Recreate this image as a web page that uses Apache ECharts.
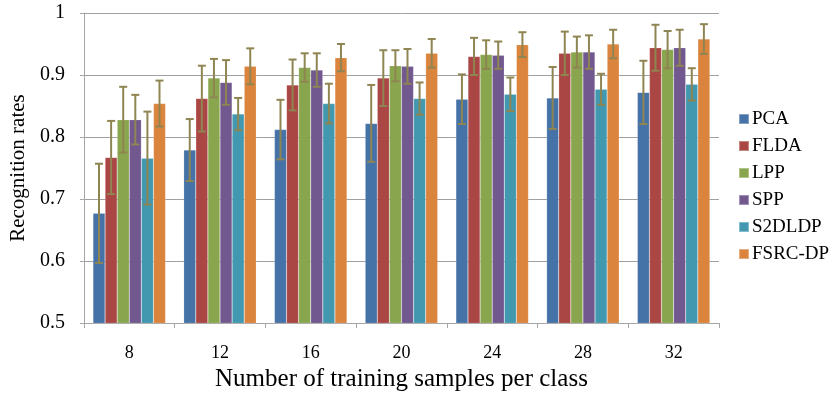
<!DOCTYPE html>
<html>
<head>
<meta charset="utf-8">
<script src="https://cdn.jsdelivr.net/npm/echarts@6/dist/echarts.min.js"></script>
<style>html,body{margin:0;padding:0;background:#fff}#c{width:831px;height:397px}</style>
</head>
<body>
<div id="c"></div>
<script>
const categories = ['8', '12', '16', '20', '24', '28', '32'];
const seriesNames = ['PCA', 'FLDA', 'LPP', 'SPP', 'S2DLDP', 'FSRC-DP'];
const yTicks = [0.5, 0.6, 0.7, 0.8, 0.9, 1];

const pcaValues    = [0.677, 0.779, 0.812, 0.822, 0.861, 0.863, 0.872];
const fldaValues   = [0.767, 0.862, 0.884, 0.895, 0.930, 0.935, 0.944];
const lppValues    = [0.828, 0.895, 0.912, 0.915, 0.933, 0.937, 0.941];
const sppValues    = [0.828, 0.888, 0.908, 0.914, 0.932, 0.937, 0.944];
const s2dldpValues = [0.766, 0.837, 0.854, 0.862, 0.869, 0.877, 0.885];
const fsrcValues   = [0.854, 0.914, 0.928, 0.935, 0.949, 0.950, 0.958];

const pcaErr    = [0.080, 0.050, 0.048, 0.062, 0.040, 0.050, 0.051];
const fldaErr   = [0.059, 0.053, 0.041, 0.045, 0.030, 0.035, 0.037];
const lppErr    = [0.053, 0.031, 0.023, 0.025, 0.023, 0.025, 0.030];
const sppErr    = [0.040, 0.036, 0.027, 0.028, 0.022, 0.027, 0.029];
const s2dldpErr = [0.075, 0.026, 0.032, 0.026, 0.027, 0.025, 0.026];
const fsrcErr   = [0.037, 0.029, 0.022, 0.023, 0.020, 0.023, 0.024];

const allValues = [pcaValues, fldaValues, lppValues, sppValues, s2dldpValues, fsrcValues];
const allErrs = [pcaErr, fldaErr, lppErr, sppErr, s2dldpErr, fsrcErr];
const colors = ['#4572A7', '#AA4643', '#89A54E', '#71588F', '#4198AF', '#DB843D'];
const errColor = '#8F8552';
const font = 'Liberation Serif, Times New Roman, serif';
const nSeries = seriesNames.length;
const catGap = 0.2;

const series = [];
seriesNames.forEach(function (name, i) {
  series.push({
    name: name,
    type: 'bar',
    data: allValues[i],
    barGap: 0,
    barCategoryGap: '20%',
    itemStyle: { color: colors[i], borderColor: 'rgba(255,255,255,0.35)', borderWidth: 0.5 },
    z: 2
  });
});
seriesNames.forEach(function (name, i) {
  series.push({
    name: name + ' error',
    type: 'custom',
    z: 5,
    encode: { x: 0, y: 1 },
    data: categories.map(function (c, k) { return [k, allValues[i][k], allErrs[i][k]]; }),
    renderItem: function (params, api) {
      const k = api.value(0);
      const v = api.value(1);
      const e = api.value(2);
      const band = api.size([1, 0])[0];
      const barW = band * (1 - catGap) / nSeries;
      const center = api.coord([k, v])[0];
      const x = center - band * (1 - catGap) / 2 + barW * (i + 0.5);
      const yHi = api.coord([k, v + e])[1];
      const yLo = api.coord([k, v - e])[1];
      const cap = 4;
      const style = { stroke: errColor, lineWidth: 2, fill: null };
      return {
        type: 'group',
        children: [
          { type: 'line', shape: { x1: x, y1: yHi, x2: x, y2: yLo }, style: style },
          { type: 'line', shape: { x1: x - cap, y1: yHi, x2: x + cap, y2: yHi }, style: style },
          { type: 'line', shape: { x1: x - cap, y1: yLo, x2: x + cap, y2: yLo }, style: style }
        ]
      };
    }
  });
});

const chart = echarts.init(document.getElementById('c'), null, { renderer: 'canvas' });
chart.setOption({
  animation: false,
  backgroundColor: '#ffffff',
  grid: { left: 81, right: 112, top: 13, bottom: 70, containLabel: false },
  legend: {
    data: seriesNames,
    orient: 'vertical',
    left: 733,
    top: 104,
    icon: 'rect',
    itemWidth: 10,
    itemHeight: 10,
    itemGap: 7,
    textStyle: { fontFamily: font, fontSize: 19, color: '#000', lineHeight: 20, padding: [0, 0, 0, -2] }
  },
  xAxis: {
    type: 'category',
    data: categories,
    name: 'Number of training samples per class',
    nameLocation: 'middle',
    nameGap: 42,
    nameTextStyle: { fontFamily: font, fontSize: 25, color: '#000' },
    axisLine: { lineStyle: { color: '#A6A6A6', width: 1 } },
    axisTick: { show: true, length: 5, lineStyle: { color: '#A6A6A6' } },
    axisLabel: { fontFamily: font, fontSize: 18, color: '#000', margin: 21 },
    splitLine: { show: false }
  },
  yAxis: {
    type: 'value',
    min: yTicks[0],
    max: yTicks[yTicks.length - 1],
    interval: 0.1,
    name: 'Recognition rates',
    nameLocation: 'middle',
    nameGap: 47,
    nameTextStyle: { fontFamily: font, fontSize: 21, color: '#000' },
    axisLine: { show: true, lineStyle: { color: '#A6A6A6', width: 1 } },
    axisTick: { show: true, length: 4, lineStyle: { color: '#A6A6A6' } },
    axisLabel: {
      fontFamily: font, fontSize: 20, color: '#000', margin: 19,
      formatter: function (v) { return String(Math.round(v * 10) / 10); }
    },
    splitLine: { show: true, lineStyle: { color: '#A0A0A0', width: 1 } }
  },
  series: series
});
</script>
</body>
</html>
